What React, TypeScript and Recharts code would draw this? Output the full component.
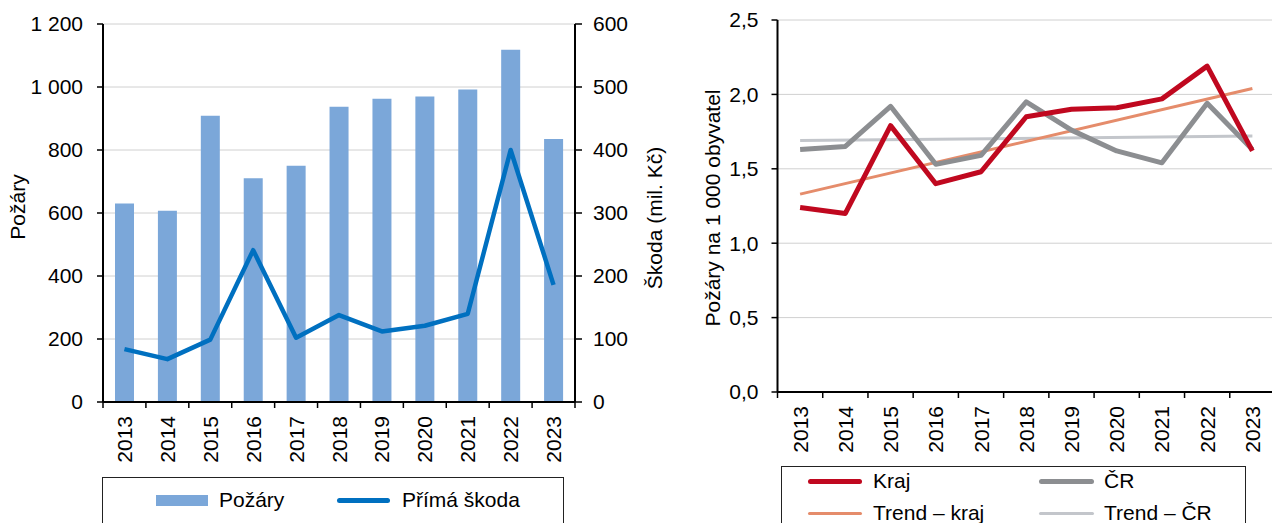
import { ComposedChart, LineChart, Bar, Line, XAxis, YAxis, CartesianGrid } from "recharts";

const FONT = '"Liberation Sans", Arial, sans-serif';

const years = ["2013", "2014", "2015", "2016", "2017", "2018", "2019", "2020", "2021", "2022", "2023"];
const pozary = [630, 607, 909, 710, 750, 937, 963, 970, 992, 1118, 835];
const primaSkoda = [84, 68, 99, 241, 102, 138, 112, 121, 140, 400, 186];

const kraj = [1.24, 1.2, 1.79, 1.4, 1.48, 1.85, 1.9, 1.91, 1.97, 2.19, 1.62];
const cr = [1.63, 1.65, 1.92, 1.53, 1.59, 1.95, 1.76, 1.62, 1.54, 1.94, 1.63];
// trend lines: only the end points are read, the line joins them
const trendKraj = [1.33, null, null, null, null, null, null, null, null, null, 2.04];
const trendCr = [1.69, null, null, null, null, null, null, null, null, null, 1.72];

const countTicks = [0, 200, 400, 600, 800, 1000, 1200];
const damageTicks = [0, 100, 200, 300, 400, 500, 600];
const rateTicks = [0, 0.5, 1, 1.5, 2, 2.5];

const fireData = years.map((year, i) => ({ year, pozary: pozary[i], skoda: primaSkoda[i] }));
const rateData = years.map((year, i) => ({
  year,
  kraj: kraj[i],
  cr: cr[i],
  trendKraj: trendKraj[i],
  trendCr: trendCr[i],
}));

const tickStyle = { fill: "#000", fontSize: 21, fontFamily: FONT };
const axisLine = { stroke: "#000", strokeWidth: 2 };
const tickLine = { stroke: "#000", strokeWidth: 1.5 };

const spaced = (v: number) => String(v).replace(/\B(?=(\d{3})+(?!\d))/g, " ");
const comma = (v: number) => v.toFixed(1).replace(".", ",");

function YearTick(props: any) {
  const { x, y, payload, index, half } = props;
  const h = payload?.offset || half;
  const ty = y + 14;
  return (
    <g>
      <line x1={x - h} x2={x - h} y1={y} y2={y + 6} stroke="#000" strokeWidth={1.5} />
      {index === years.length - 1 && (
        <line x1={x + h} x2={x + h} y1={y} y2={y + 6} stroke="#000" strokeWidth={1.5} />
      )}
      <text
        x={x}
        y={ty}
        transform={`rotate(-90 ${x} ${ty})`}
        textAnchor="end"
        dominantBaseline="central"
        fontSize={21}
        fontFamily={FONT}
        fill="#000"
      >
        {payload.value}
      </text>
    </g>
  );
}

const axisTitle = (text: string, dx: number, dy = 0) => (props: any) => {
  const vb = props.viewBox;
  const x = vb.x + dx;
  const y = vb.y + vb.height / 2 + dy;
  return (
    <text
      x={x}
      y={y}
      transform={`rotate(-90 ${x} ${y})`}
      textAnchor="middle"
      dominantBaseline="central"
      fontSize={21}
      fontFamily={FONT}
      fill="#000"
    >
      {text}
    </text>
  );
};

const legendText = { position: "absolute" as const, fontSize: 21, fontFamily: FONT, lineHeight: "24px", color: "#000", whiteSpace: "nowrap" as const };

function swatch(left: number, top: number, width: number, height: number, color: string, round = true) {
  return (
    <div
      style={{
        position: "absolute",
        left,
        top,
        width,
        height,
        background: color,
        borderRadius: round ? height / 2 : 0,
      }}
    />
  );
}

export default function App() {
  return (
    <div style={{ position: "fixed", left: 0, top: 0, width: 1272, height: 523, overflow: "hidden", background: "#fff" }}>
      <div style={{ position: "absolute", left: 0, top: 0 }}>
        <ComposedChart width={670} height={523} data={fireData} margin={{ top: 24, right: 0, bottom: 0, left: 0 }}>
          <CartesianGrid vertical={false} yAxisId="left" stroke="#d0d0d0" strokeWidth={1} />
          <XAxis
            dataKey="year"
            height={121}
            interval={0}
            tickSize={0}
            tickMargin={0}
            tickLine={false}
            axisLine={axisLine}
            tick={<YearTick half={21.5} />}
          />
          <XAxis xAxisId="top" dataKey="year" orientation="top" height={0} tick={false} tickLine={false} axisLine={axisLine} />
          <YAxis
            yAxisId="left"
            width={103}
            domain={[0, 1200]}
            ticks={countTicks}
            interval={0}
            tickFormatter={spaced}
            tick={tickStyle}
            tickSize={6}
            tickMargin={14}
            tickLine={tickLine}
            axisLine={axisLine}
            label={axisTitle("Požáry", 17, -6)}
          />
          <YAxis
            yAxisId="right"
            orientation="right"
            width={95}
            domain={[0, 600]}
            ticks={damageTicks}
            interval={0}
            tick={tickStyle}
            tickSize={7}
            tickMargin={11}
            tickLine={tickLine}
            axisLine={axisLine}
            label={axisTitle("Škoda (mil. Kč)", 79, 5)}
          />
          <Bar yAxisId="left" dataKey="pozary" name="Požáry" fill="#7BA7D9" barSize={19} isAnimationActive={false} />
          <Line
            yAxisId="right"
            type="linear"
            dataKey="skoda"
            name="Přímá škoda"
            stroke="#0070C0"
            strokeWidth={4.5}
            strokeLinejoin="round"
            dot={false}
            isAnimationActive={false}
          />
        </ComposedChart>
      </div>

      <div style={{ position: "absolute", left: 670, top: 0 }}>
        <LineChart width={610} height={523} data={rateData} margin={{ top: 20, right: 5, bottom: 0, left: 0 }}>
          <CartesianGrid vertical={false} stroke="#d0d0d0" strokeWidth={1} />
          <XAxis
            dataKey="year"
            scale="band"
            height={131}
            interval={0}
            tickSize={0}
            tickMargin={0}
            tickLine={false}
            axisLine={axisLine}
            tick={<YearTick half={22.6} />}
          />
          <XAxis xAxisId="top" dataKey="year" scale="band" orientation="top" height={0} tick={false} tickLine={false} axisLine={axisLine} />
          <YAxis
            width={107.5}
            domain={[0, 2.5]}
            ticks={rateTicks}
            interval={0}
            tickFormatter={comma}
            tick={tickStyle}
            tickSize={6}
            tickMargin={13}
            tickLine={tickLine}
            axisLine={axisLine}
            label={axisTitle("Požáry na 1 000 obyvatel", 42, 2)}
          />
          <Line type="linear" dataKey="trendCr" stroke="#C3C6CB" strokeWidth={3} dot={false} connectNulls isAnimationActive={false} />
          <Line type="linear" dataKey="trendKraj" stroke="#E58C6B" strokeWidth={3} dot={false} connectNulls isAnimationActive={false} />
          <Line type="linear" dataKey="cr" stroke="#8C8E91" strokeWidth={5} strokeLinejoin="round" dot={false} isAnimationActive={false} />
          <Line type="linear" dataKey="kraj" stroke="#C0081F" strokeWidth={5} strokeLinejoin="round" dot={false} isAnimationActive={false} />
        </LineChart>
      </div>

      {/* legend of the left chart */}
      <div style={{ position: "absolute", left: 102, top: 477, width: 462, height: 70, border: "1px solid #222", boxSizing: "border-box" }} />
      {swatch(156, 495, 52, 11, "#7BA7D9", false)}
      <div style={{ ...legendText, left: 219, top: 488 }}>Požáry</div>
      {swatch(337, 498, 53, 5, "#0070C0")}
      <div style={{ ...legendText, left: 402, top: 488 }}>Přímá škoda</div>

      {/* legend of the right chart */}
      <div style={{ position: "absolute", left: 781, top: 466, width: 465, height: 80, border: "1px solid #222", boxSizing: "border-box" }} />
      {swatch(808, 478.5, 54, 5, "#C0081F")}
      <div style={{ ...legendText, left: 873, top: 469 }}>Kraj</div>
      {swatch(1039, 478.5, 55, 5, "#8C8E91")}
      <div style={{ ...legendText, left: 1104, top: 469 }}>ČR</div>
      {swatch(808, 511.5, 54, 3, "#E58C6B")}
      <div style={{ ...legendText, left: 873, top: 501 }}>Trend – kraj</div>
      {swatch(1039, 511.5, 55, 3, "#C3C6CB")}
      <div style={{ ...legendText, left: 1104, top: 501 }}>Trend – ČR</div>
    </div>
  );
}
